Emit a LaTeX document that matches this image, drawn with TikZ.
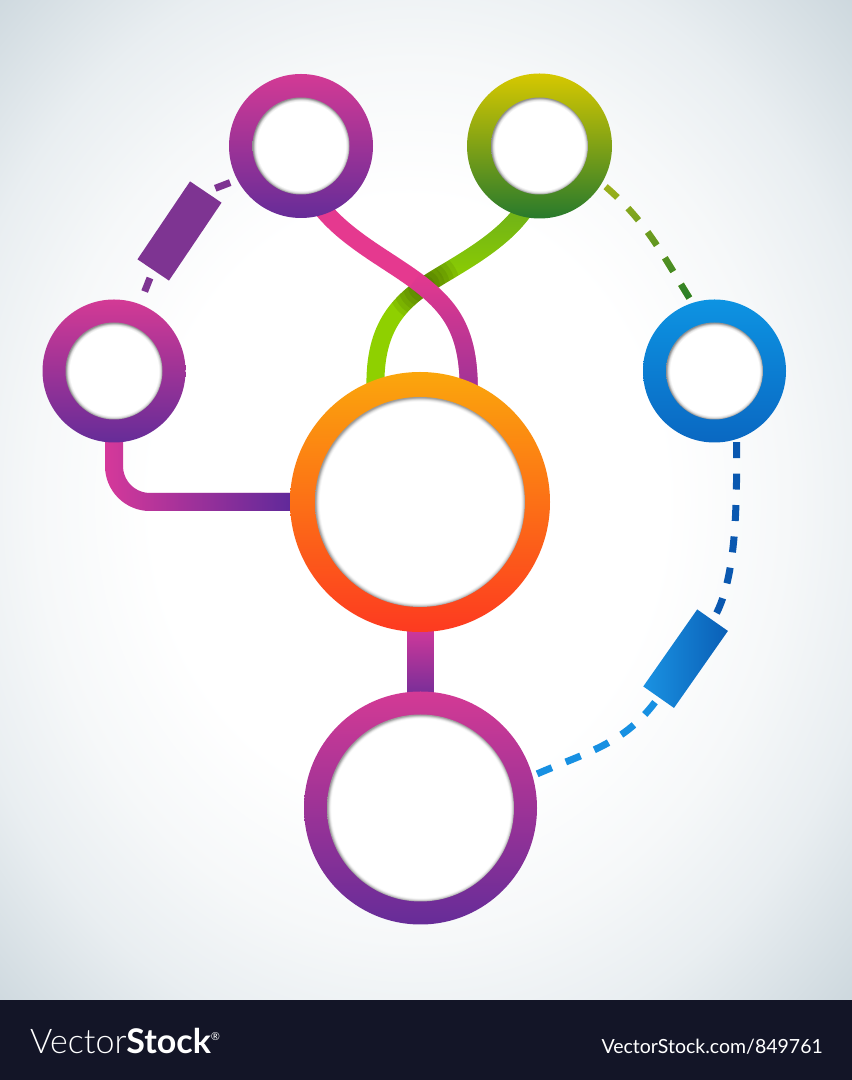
\documentclass[tikz,border=0pt]{standalone}
\usepackage{fontspec}
\newfontfamily\latolight{Lato Light}
\newfontfamily\lato{Lato}
\usetikzlibrary{calc,fadings}
\definecolor{magtop}{HTML}{D33A95}
\definecolor{magbot}{HTML}{662C98}
\definecolor{grtop}{HTML}{D6C800}
\definecolor{grbot}{HTML}{287A2C}
\definecolor{bltop}{HTML}{0D93E2}
\definecolor{blbot}{HTML}{0A68C2}
\definecolor{ortop}{HTML}{FBA60C}
\definecolor{orbot}{HTML}{FD3A20}
\definecolor{pinkc}{HTML}{E5398F}
\definecolor{pinkpurp}{HTML}{9A3398}
\definecolor{lpink}{HTML}{D6399A}
\definecolor{lpurp}{HTML}{55289A}
\definecolor{greenc}{HTML}{8FD000}
\definecolor{greendark}{HTML}{6CAE1C}
\definecolor{purpc}{HTML}{7E3492}
\definecolor{gdashlight}{HTML}{A3B41A}
\definecolor{gdashdark}{HTML}{217B28}
\definecolor{bdark}{HTML}{0A58B0}
\definecolor{blight}{HTML}{1790E2}
\definecolor{rectlight}{HTML}{1A92E2}
\definecolor{rectdark}{HTML}{0A5FB6}
\definecolor{bgone}{HTML}{F6F8F9}
\definecolor{bgmid}{HTML}{E9EEF1}
\definecolor{bgedge}{HTML}{CCD7DD}
\definecolor{bandc}{HTML}{131527}
\pgfdeclareradialshading{innersmall}{\pgfpoint{0bp}{0bp}}{color(0bp)=(white); color(23bp)=(white); color(24bp)=(black!14); color(24.6bp)=(black!34); color(25bp)=(black!44); color(50bp)=(black!44)}
\pgfdeclareradialshading{innerbig}{\pgfpoint{0bp}{0bp}}{color(0bp)=(white); color(24bp)=(white); color(24.5bp)=(black!14); color(24.8bp)=(black!32); color(25bp)=(black!40); color(50bp)=(black!40)}
\pgfdeclareradialshading{bgshade}{\pgfpoint{-1.5bp}{0bp}}{color(0bp)=(white); color(15bp)=(white); color(22bp)=(bgone); color(28bp)=(bgmid); color(36bp)=(bgedge); color(50bp)=(bgedge)}
\tikzfading[name=fadebot, top color=transparent!100, middle color=transparent!100, bottom color=transparent!0]
\tikzfading[name=fadebotlin, top color=transparent!100, bottom color=transparent!0]
\tikzfading[name=fadetop, top color=transparent!0, bottom color=transparent!100]
\tikzfading[name=faderight, left color=transparent!100, right color=transparent!0]
\pgfdeclarelayer{back}
\pgfdeclarelayer{links}
\pgfsetlayers{back,links,main}
\tikzset{
  ringnode/.style={circle, inner sep=0pt, minimum size=#1, draw=none},
  innerdisk/.style={circle, inner sep=0pt, minimum size=#1, shade, shading=innersmall},
  innerdiskbig/.style={circle, inner sep=0pt, minimum size=#1, shade, shading=innerbig},
  band/.style={line width=18pt},
  pdash/.style={line width=7pt, draw=purpc},
  gdash/.style={line width=6.5pt, dash pattern=on 16pt off 15pt, dash phase=26pt},
  bdash/.style={line width=7pt},
  tagbox/.style={rectangle, inner sep=0pt, minimum width=94pt, minimum height=38pt, draw=none},
}
\begin{document}
\begin{tikzpicture}[x=1pt,y=1pt]
\useasboundingbox (0,0) rectangle (852,1080);
% ---------- rings ----------
\node[ringnode=144pt, top color=magtop, bottom color=magbot] (tl) at (301,934) {};
\node[innerdisk=97pt] (tl-in) at (tl) {};
\node[ringnode=145pt, top color=grtop, bottom color=grbot] (tr) at (539.5,934) {};
\node[innerdisk=97pt] (tr-in) at (tr) {};
\node[ringnode=143pt, top color=magtop, bottom color=magbot] (lc) at (114,709) {};
\node[innerdisk=97pt] (lc-in) at (lc) {};
\node[ringnode=143pt, top color=bltop, bottom color=blbot] (rc) at (714.5,709) {};
\node[innerdisk=97pt] (rc-in) at (rc) {};
\node[ringnode=260pt, top color=ortop, bottom color=orbot] (oc) at (420,578) {};
\node[innerdiskbig=210pt] (oc-in) at (oc) {};
\node[ringnode=233pt, top color=magtop, bottom color=magbot] (bc) at (420.5,272) {};
\node[innerdiskbig=187pt] (bc-in) at (bc) {};
% ---------- tags ----------
\node[tagbox, fill=purpc, rotate=56] (r1) at (179.5,849) {};
\node[tagbox, minimum height=37.5pt, left color=rectlight, right color=rectdark, rotate=55] (r2) at (685.6,421.3) {};
% ---------- watermark ----------
\node[anchor=base west, text=white, inner sep=0pt, font=\fontsize{34}{34}\selectfont] (wm1) at (30,27)
  {{\latolight Vector}{\lato\bfseries Stock}\raisebox{13pt}{\lato\fontsize{11}{11}\selectfont ®}};
\node[anchor=base east, text=white, inner sep=0pt, font=\lato\fontsize{19.5}{19.5}\selectfont] (wm2) at (823,27)
  {VectorStock.com/849761};
% ---------- background ----------
\begin{pgfonlayer}{back}
  \shade[shading=bgshade] (0,80) rectangle (852,1080);
  \fill[bandc] (0,0) rectangle (852,80);
\end{pgfonlayer}
% ---------- connectors ----------
\begin{pgfonlayer}{links}
  \coordinate (gs) at ($(tr.center)!0.88!(tr.-103)$);
  \coordinate (ge) at ($(oc.110.7)+(0,-9)$);
  \coordinate (ps) at ($(tl.center)!0.88!(tl.-72)$);
  \coordinate (pe) at ($(oc.68.5)+(0,-9)$);
  % green band (under)
  \draw[band, greenc] (gs) .. controls (505,842) and (470,822) .. (440,804)
        .. controls (400,780) and (374,755) .. (ge);
  \draw[band, greendark, path fading=fadetop] (gs) .. controls (505,842) and (470,822) .. (440,804);
  \foreach \rr in {36,31,26,21,16,11}{
    \begin{scope}
      \clip (424,794) circle (\rr);
      \draw[band, black, opacity=0.07] (gs) .. controls (505,842) and (470,822) .. (440,804)
        .. controls (400,780) and (374,755) .. (ge);
    \end{scope}
  }
  % pink band (over)
  \draw[band, pinkc] (ps) .. controls (345,842) and (385,822) .. (415,800)
        .. controls (450,774) and (469,750) .. (pe);
  \draw[band, pinkpurp, path fading=fadebot] (415,800) .. controls (450,774) and (469,750) .. (pe);
  % left band
  \draw[band, lpink, rounded corners=36pt] ([yshift=8pt]lc.south) |- ([xshift=10pt]oc.west);
  \draw[band, lpurp, rounded corners=36pt, path fading=faderight] ([yshift=8pt]lc.south) |- ([xshift=10pt]oc.west);
  % centre bar
  \path[top color=lpink, bottom color=magbot!90!lpink] ($(oc.south)+(-13,8)$) rectangle ($(bc.north)+(13,-8)$);
  % purple dashes
  \draw[pdash, dash pattern=on 16pt off 10pt, dash phase=16pt] (r1.east) -- (tl.208);
  \draw[pdash, dash pattern=on 14.5pt off 22pt, dash phase=28pt] (r1.west) -- (lc.69);
  % green dashes
  \draw[gdash, draw=gdashlight] (tr.-31) to[out=-40, in=122] (rc.108);
  \draw[gdash, draw=gdashdark, path fading=fadebotlin] (tr.-31) to[out=-40, in=122] (rc.108);
  % blue dashes
  \draw[bdash, draw=bdark, dash pattern=on 16pt off 15.5pt, dash phase=23.5pt]
        (r2.east) .. controls +(25,40) and +(0,-60) .. (rc.-72);
  \draw[bdash, draw=blight, dash pattern=on 16pt off 15pt, dash phase=25pt]
        (r2.west) to[out=-125, in=24] (bc.16);
\end{pgfonlayer}
\end{tikzpicture}
\end{document}
